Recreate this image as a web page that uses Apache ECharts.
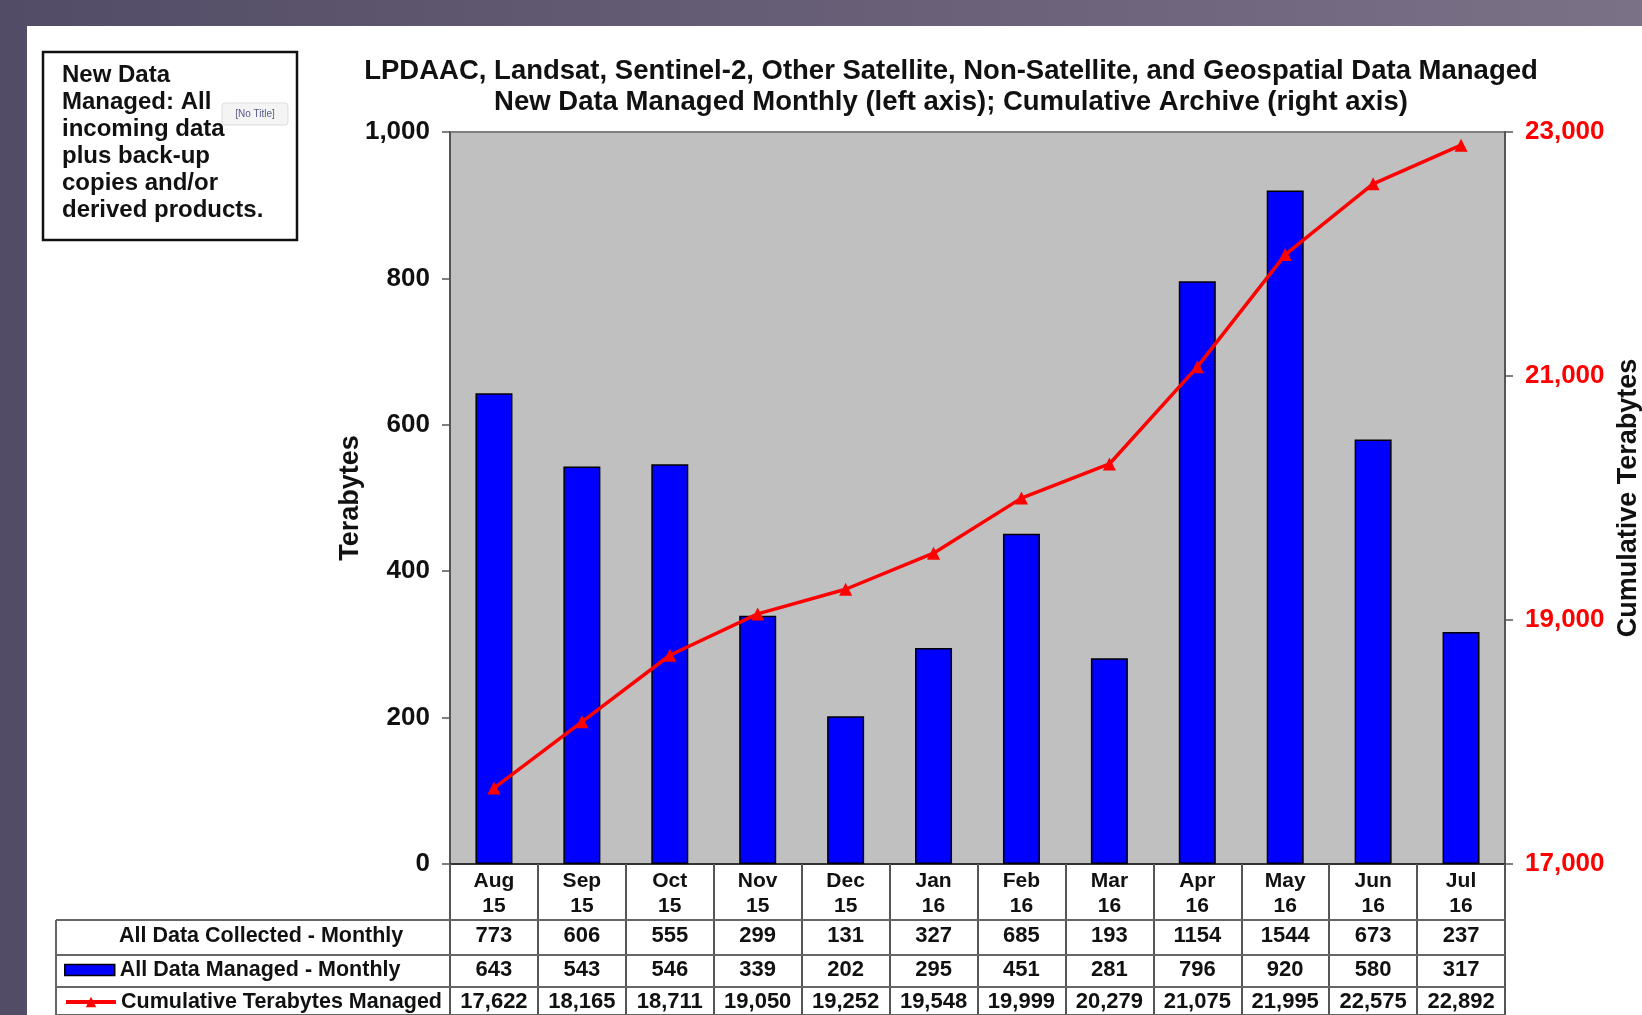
<!DOCTYPE html>
<html>
<head>
<meta charset="utf-8">
<script src="https://cdn.jsdelivr.net/npm/echarts@6/dist/echarts.min.js"></script>
<style>
  html, body { margin: 0; padding: 0; width: 1642px; height: 1015px; overflow: hidden;
    background: linear-gradient(to right, #534c66, #7b7187); }
  #slide { position: absolute; left: 27px; top: 26px; right: 0; bottom: 0; background: #ffffff; }
  #chart { position: absolute; left: 0; top: 0; width: 1642px; height: 1015px; }
</style>
</head>
<body>
<div id="slide"></div>
<div id="chart"></div>
<script>
const months = ['Aug\n15', 'Sep\n15', 'Oct\n15', 'Nov\n15', 'Dec\n15', 'Jan\n16', 'Feb\n16', 'Mar\n16', 'Apr\n16', 'May\n16', 'Jun\n16', 'Jul\n16'];
const collectedMonthly = [773, 606, 555, 299, 131, 327, 685, 193, 1154, 1544, 673, 237];
const managedMonthly = [643, 543, 546, 339, 202, 295, 451, 281, 796, 920, 580, 317];
const cumulativeManaged = [17622, 18165, 18711, 19050, 19252, 19548, 19999, 20279, 21075, 21995, 22575, 22892];
const leftTicks = { min: 0, max: 1000, interval: 200 };
const rightTicks = { min: 17000, max: 23000, interval: 2000 };
const rowLabels = ['All Data Collected - Monthly', 'All Data Managed - Monthly', 'Cumulative Terabytes Managed'];
const titleLines = ['LPDAAC, Landsat, Sentinel-2, Other Satellite, Non-Satellite, and Geospatial Data Managed',
                    'New Data Managed Monthly (left axis); Cumulative Archive (right axis)'];
const noteLines = ['New Data', 'Managed: All', 'incoming data', 'plus back-up', 'copies and/or', 'derived products.'];

const FONT = '"Liberation Sans", Arial, sans-serif';
const fmt = v => Number(v).toLocaleString('en-US');

const chart = echarts.init(document.getElementById('chart'), null, { renderer: 'canvas' });

const GL = 450, GT = 132, GW = 1055, GH = 732;
const tableLeft = 56, tableRight = GL + GW;
const rowLines = [920, 955, 987, 1015];

function tableRowAxis(offset, formatter) {
  return {
    type: 'category', data: months, gridIndex: 0, position: 'bottom', offset: offset,
    axisLine: { show: false }, axisTick: { show: false },
    axisLabel: { interval: 0, margin: 0, fontFamily: FONT, fontWeight: 'bold', fontSize: 22,
      color: '#111', lineHeight: 22, formatter: formatter }
  };
}

const graphics = [];
rowLines.forEach(y => graphics.push({ type: 'line', shape: { x1: tableLeft, y1: y, x2: tableRight, y2: y },
  style: { stroke: '#666', lineWidth: 2 }, z: 10 }));
graphics.push({ type: 'line', shape: { x1: tableLeft, y1: rowLines[0], x2: tableLeft, y2: 1015 },
  style: { stroke: '#666', lineWidth: 2 }, z: 10 });
graphics.push({ type: 'text', left: 119, top: 925, z: 10,
  style: { text: rowLabels[0], font: 'bold 21.5px ' + FONT, fill: '#111' } });
graphics.push({ type: 'rect', shape: { x: 43, y: 52, width: 254, height: 188 },
  style: { fill: '#fff', stroke: '#111', lineWidth: 2.5 }, z: 10 });
graphics.push({ type: 'text', left: 62, top: 62, z: 11,
  style: { text: noteLines.join('\n'), font: 'bold 24px ' + FONT, lineHeight: 27, fill: '#111' } });
graphics.push({ type: 'rect', shape: { x: 222, y: 103, width: 66, height: 22, r: 3 },
  style: { fill: '#f4f4f4', stroke: '#dddddd', lineWidth: 1 }, z: 11 });
graphics.push({ type: 'text', x: 255, y: 114, z: 12,
  style: { text: '[No Title]', font: '10px ' + FONT, fill: '#5a5a88', align: 'center', verticalAlign: 'middle' } });

const legendText = { fontFamily: FONT, fontWeight: 'bold', fontSize: 21.5, color: '#111' };

const option = {
  animation: false,
  textStyle: { fontFamily: FONT },
  title: {
    text: titleLines.join('\n'), left: 946, top: 51, textAlign: 'center',
    textStyle: { fontFamily: FONT, fontWeight: 'bold', fontSize: 27.5, color: '#111', lineHeight: 31 }
  },
  legend: [
    {
      left: 64, top: 959, itemWidth: 50, itemHeight: 11, padding: 0, textStyle: legendText,
      data: [{ name: rowLabels[1], icon: 'rect', itemStyle: { color: '#0000ff', borderColor: '#000', borderWidth: 1.5 } }]
    },
    {
      left: 64, top: 991, itemWidth: 50, itemHeight: 13, padding: 0, textStyle: legendText,
      data: [{ name: rowLabels[2], lineStyle: { width: 4, color: '#ff0000' } }]
    }
  ],
  grid: { left: GL, top: GT, width: GW, height: GH, show: true, backgroundColor: '#c0c0c0',
    borderColor: '#808080', borderWidth: 2, outerBoundsMode: 'none', containLabel: false },
  xAxis: [
    {
      type: 'category', data: months, position: 'bottom', boundaryGap: true,
      axisLine: { show: true, lineStyle: { color: '#333', width: 2 } },
      axisTick: { show: true, interval: 0, length: 151, lineStyle: { color: '#555', width: 2 } },
      axisLabel: { interval: 0, margin: 5, fontFamily: FONT, fontWeight: 'bold', fontSize: 21,
        color: '#111', lineHeight: 25 }
    },
    tableRowAxis(61, (v, i) => String(collectedMonthly[i])),
    tableRowAxis(95, (v, i) => String(managedMonthly[i])),
    tableRowAxis(127, (v, i) => fmt(cumulativeManaged[i]))
  ],
  yAxis: [
    {
      type: 'value', min: leftTicks.min, max: leftTicks.max, interval: leftTicks.interval, position: 'left',
      name: 'Terabytes', nameLocation: 'middle', nameGap: 86, nameRotate: 90, nameMoveOverlap: false,
      nameTextStyle: { fontFamily: FONT, fontWeight: 'bold', fontSize: 27, color: '#111' },
      axisLine: { show: true, lineStyle: { color: '#555', width: 2 } },
      axisTick: { show: true, length: 8, lineStyle: { color: '#555', width: 1.5 } },
      splitLine: { show: false },
      axisLabel: { margin: 20, fontFamily: FONT, fontWeight: 'bold', fontSize: 26, color: '#111', formatter: fmt }
    },
    {
      type: 'value', min: rightTicks.min, max: rightTicks.max, interval: rightTicks.interval, position: 'right',
      name: 'Cumulative Terabytes', nameLocation: 'middle', nameGap: 110, nameRotate: 90, nameMoveOverlap: false,
      nameTextStyle: { fontFamily: FONT, fontWeight: 'bold', fontSize: 27, color: '#111' },
      axisLine: { show: true, lineStyle: { color: '#555', width: 2 } },
      axisTick: { show: true, length: 8, lineStyle: { color: '#555', width: 1.5 } },
      splitLine: { show: false },
      axisLabel: { margin: 20, fontFamily: FONT, fontWeight: 'bold', fontSize: 26, color: '#ff0000', formatter: fmt }
    }
  ],
  series: [
    {
      name: rowLabels[1], type: 'bar', xAxisIndex: 0, yAxisIndex: 0, data: managedMonthly, barWidth: 37,
      itemStyle: { color: '#0000ff', borderColor: '#000', borderWidth: 1.5 }, z: 3
    },
    {
      name: rowLabels[2], type: 'line', xAxisIndex: 0, yAxisIndex: 1, data: cumulativeManaged,
      symbol: 'triangle', symbolSize: 13, color: '#ff0000',
      lineStyle: { color: '#ff0000', width: 3.5 }, itemStyle: { color: '#ff0000' }, z: 4
    }
  ],
  graphic: graphics
};
chart.setOption(option);
</script>
</body>
</html>
